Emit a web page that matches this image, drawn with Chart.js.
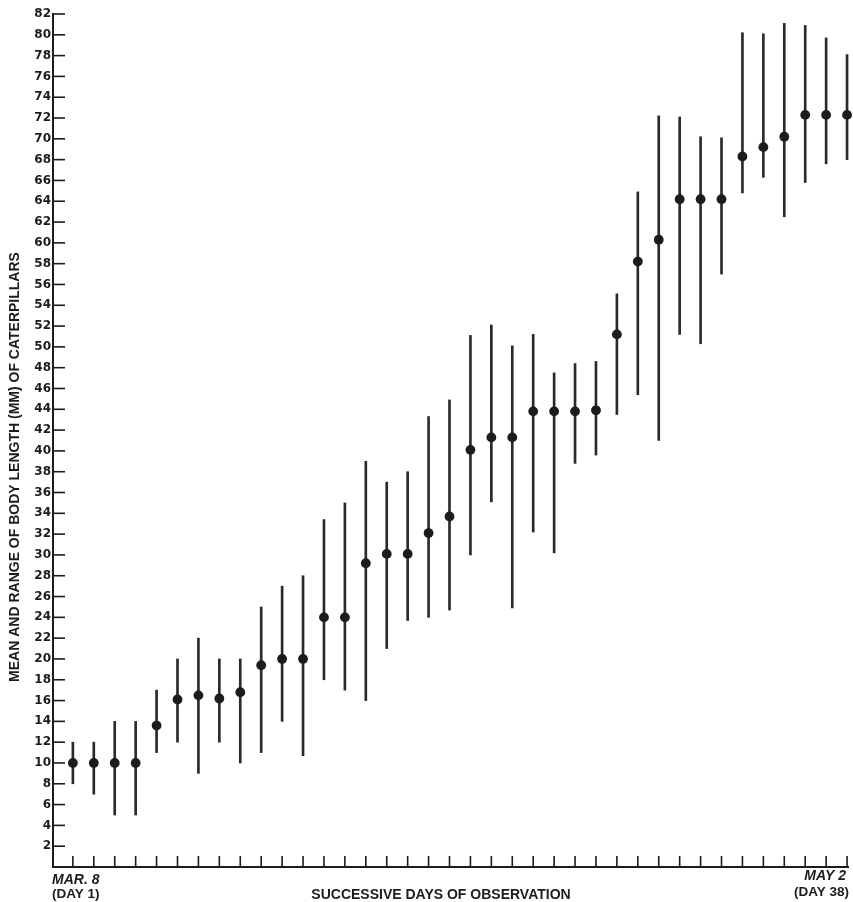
<!DOCTYPE html>
<html><head><meta charset="utf-8">
<script src="https://cdn.jsdelivr.net/npm/chart.js@4.4.0/dist/chart.umd.min.js"></script>
<style>html,body{margin:0;padding:0;background:#fff}#wrap{width:853px;height:902px;position:relative}</style>
</head><body><div id="wrap"><canvas id="c" width="853" height="902"></canvas></div>
<script>
// ---- data ----
const days = [1,2,3,4,5,6,7,8,9,10,11,12,13,14,15,16,17,18,19,20,21,22,23,24,25,26,27,28,29,30,31,32,33,34,35,36,37,38];
const means = [10,10,10,10,13.6,16.1,16.5,16.2,16.8,19.4,20,20,24,24,29.2,30.1,30.1,32.1,33.7,40.1,41.3,41.3,43.8,43.8,43.8,43.9,51.2,58.2,60.3,64.2,64.2,64.2,68.3,69.2,70.2,72.3,72.3,72.3];
const highs = [12,12,14,14,17,20,22,20,20,25,27,28,33.4,35,39,37,38,43.3,44.9,51.1,52.1,50.1,51.2,47.5,48.4,48.6,55.1,64.9,72.2,72.1,70.2,70.1,80.2,80.1,81.1,80.9,79.7,78.1];
const lows = [8,7,5,5,11,12,9,12,10,11,14,10.7,18,17,16,21,23.7,24,24.7,30,35.1,24.9,32.2,30.2,38.8,39.6,43.5,45.4,41,51.2,50.3,57,64.8,66.3,62.5,65.8,67.6,68];
const yTitle = 'MEAN AND RANGE OF BODY LENGTH (MM) OF CATERPILLARS';
const xTitle = 'SUCCESSIVE DAYS OF OBSERVATION';
const startLabel = ['MAR. 8', '(DAY 1)'];
const endLabel = ['MAY 2', '(DAY 38)'];
const yMin = 0, yMax = 82, yStep = 2;

const ink = '#1c1c1c';
const rangeData = days.map((d, i) => ({x: d, y: [lows[i], highs[i]]}));
const meanData = days.map((d, i) => ({x: d, y: means[i]}));

const decor = {
  id: 'decor',
  afterDraw(chart) {
    const {ctx, scales: {x, y}, chartArea: a} = chart;
    ctx.save();
    ctx.strokeStyle = ink; ctx.lineWidth = 1.6;
    y.ticks.forEach(t => {
      if (t.value <= yMin) return;
      const py = y.getPixelForValue(t.value);
      ctx.beginPath(); ctx.moveTo(a.left, py); ctx.lineTo(a.left + 12, py); ctx.stroke();
    });
    days.forEach(d => {
      const px = x.getPixelForValue(d);
      ctx.beginPath(); ctx.moveTo(px, a.bottom); ctx.lineTo(px, a.bottom - 11); ctx.stroke();
    });
    ctx.fillStyle = ink;
    // y axis title
    ctx.save();
    ctx.translate(15, 467); ctx.rotate(-Math.PI / 2);
    ctx.font = 'bold 14px "Liberation Sans", Arial, sans-serif';
    ctx.textAlign = 'center'; ctx.textBaseline = 'middle';
    ctx.fillText(yTitle, 0, 0);
    ctx.restore();
    // x axis title
    ctx.font = 'bold 14px "Liberation Sans", Arial, sans-serif';
    ctx.textAlign = 'center'; ctx.textBaseline = 'alphabetic';
    ctx.fillText(xTitle, 441, 899);
    // start / end labels
    ctx.textAlign = 'left';
    ctx.font = 'italic bold 14px "Liberation Sans", Arial, sans-serif';
    ctx.fillText(startLabel[0], 52, 884);
    ctx.font = 'bold 13.5px "Liberation Sans", Arial, sans-serif';
    ctx.fillText(startLabel[1], 52, 898);
    ctx.textAlign = 'right';
    ctx.font = 'italic bold 14px "Liberation Sans", Arial, sans-serif';
    ctx.fillText(endLabel[0], 846, 880);
    ctx.font = 'bold 13.5px "Liberation Sans", Arial, sans-serif';
    ctx.fillText(endLabel[1], 849, 896);
    ctx.restore();
  }
};

new Chart(document.getElementById('c'), {
  data: {
    datasets: [
      {type: 'bar', data: rangeData, backgroundColor: '#2a2a2a', borderWidth: 0, barThickness: 2, grouped: false, order: 2, clip: false},
      {type: 'line', data: meanData, showLine: false, pointRadius: 4.9, pointBackgroundColor: ink, pointBorderWidth: 0, order: 1, clip: false}
    ]
  },
  options: {
    responsive: false, animation: false, devicePixelRatio: 1,
    layout: {padding: {top: 14, right: 3, bottom: 0, left: 0}},
    plugins: {legend: {display: false}, tooltip: {enabled: false}},
    scales: {
      x: {
        type: 'linear', min: 0.05, max: 38.05, offset: false,
        grid: {display: false, drawTicks: false, offset: false},
        border: {display: true, color: ink, width: 2},
        ticks: {display: false},
        afterFit(s) { s.height = 35; }
      },
      y: {
        type: 'linear', min: yMin, max: yMax,
        grid: {display: false, drawTicks: false},
        border: {display: true, color: ink, width: 2},
        ticks: {
          stepSize: yStep, autoSkip: false, padding: 2, color: ink,
          font: {family: '"DejaVu Sans"', size: 12, weight: 'bold'},
          callback: v => v === yMin ? '' : String(v)
        },
        afterFit(s) { s.width = 53; }
      }
    }
  },
  plugins: [decor]
});
</script></body></html>
